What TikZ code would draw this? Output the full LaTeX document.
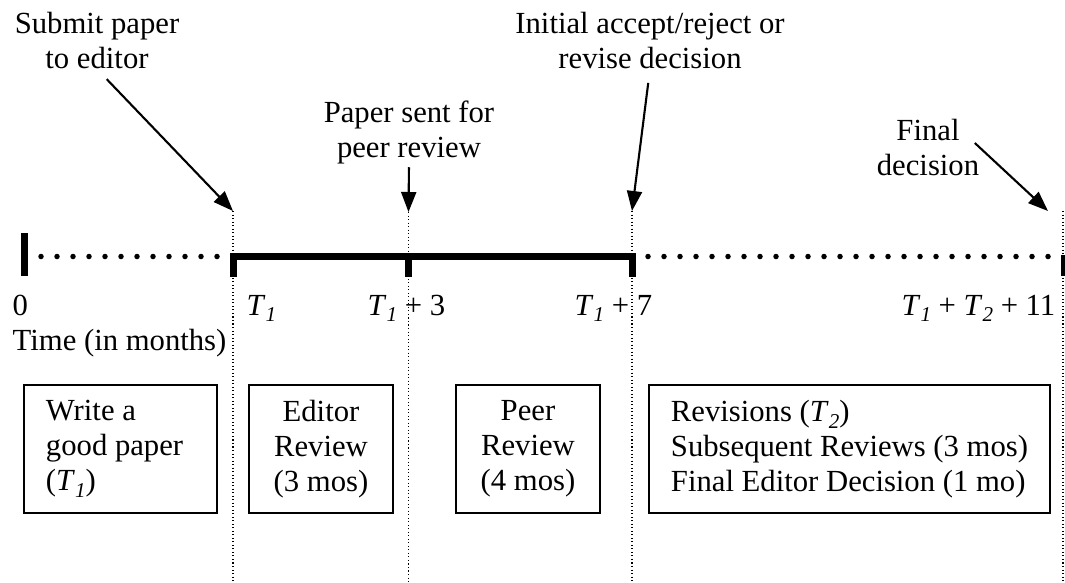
\documentclass[tikz,border=0pt]{standalone}
\usepackage{fontspec}
\setmainfont{Liberation Serif}
\usetikzlibrary{arrows.meta}
\newcommand{\Tsub}[1]{\textit{T}\raisebox{-0.22em}{\fontsize{6pt}{6pt}\selectfont\textit{#1}}}

\begin{document}
\begin{tikzpicture}[
        font=\fontsize{8.73pt}{9.96pt}\selectfont,
        lbl/.style={inner sep=0pt, align=center},
        mark label/.style={inner sep=0pt, anchor=base west},
        pointer/.style={-{Triangle[length=0.2cm,width=0.15cm]}, line width=0.6pt, shorten <=0.1cm},
        guide/.style={line width=0.3pt, dash pattern=on 0.3pt off 0.7pt},
        dots/.style={line width=0.055cm, line cap=round, dash pattern=on 0pt off 0.16cm},
        bar/.style={line width=0.07cm},
        stage/.style={draw, line width=0.6pt, minimum height=1.28cm, inner ysep=0pt}
    ]
            \useasboundingbox (0,0) rectangle (10.65,-5.82);
            \coordinate (A) at (2.33,-2.11);
            \coordinate (B) at (4.085,-2.12);
            \coordinate (C) at (6.32,-2.11);
            \coordinate (D) at (10.63,-2.11);
            \coordinate (E) at (10.48,-2.11);
            \draw[guide] (A) -- ++(0,-3.71);
            \draw[guide] (B) -- ++(0,-3.70);
            \draw[guide] (C) -- ++(0,-3.71);
            \draw[guide] (D) -- ++(0,-3.71);
            \draw[bar] (0.245,-2.33) -- (0.245,-2.76);
            \draw[dots] (0.41,-2.565) -- (2.25,-2.565);
            \draw[bar] (2.33,-2.77) -- (2.33,-2.565) -- (6.32,-2.565) -- (6.32,-2.77);
            \draw[bar] (4.085,-2.565) -- (4.085,-2.77);
            \draw[dots] (6.48,-2.565) -- (10.55,-2.565);
            \draw[bar] (10.64,-2.55) -- (10.64,-2.76);
            \node[lbl, anchor=base] (submit) at (0.97,-0.68) {Submit paper\\to editor};
            \node[lbl, anchor=base] (sent) at (4.09,-1.57) {Paper sent for\\peer review};
            \node[lbl, anchor=base] (initial) at (6.50,-0.68) {Initial accept/reject or\\revise decision};
            \node[lbl, anchor=base] (final) at (9.28,-1.75) {Final\\decision};
            \draw[pointer, shorten <=0.14cm] (submit.south) -- (A);
            \draw[pointer, shorten <=0.03cm] (sent.south) -- (B);
            \draw[pointer, shorten <=0.14cm] (initial.south) -- (C);
            \draw[pointer, shorten <=0pt] ([xshift=-0.05cm,yshift=0.04cm]final.east) -- (E);
            \node[lbl, anchor=base west, align=flush left] (time) at (0.12,-3.50) {0\\Time (in months)};
            \node[mark label] (t1) at (2.46,-3.15) {\Tsub{1}};
            \node[mark label] (t3) at (3.67,-3.15) {\Tsub{1} + 3};
            \node[mark label] (t7) at (5.74,-3.15) {\Tsub{1} + 7};
            \node[mark label, anchor=base east] (t11) at (10.56,-3.15) {\Tsub{1} + \Tsub{2} + 11};
            \node[stage, text width=1.49cm, inner xsep=0.22cm, align=flush left] (write) at (1.205,-4.49) {Write a\\good paper\\(\Tsub{1})};
            \node[stage, minimum width=1.44cm, align=center] (editor) at (3.21,-4.49) {Editor\\Review\\(3 mos)};
            \node[stage, minimum width=1.44cm, align=center] (peer) at (5.28,-4.49) {Peer\\Review\\(4 mos)};
            \node[stage, minimum width=4.01cm, align=flush left] (revise) at (8.495,-4.49) {Revisions (\Tsub{2})\\Subsequent Reviews (3 mos)\\Final Editor Decision (1 mo)};
        \end{tikzpicture}
\end{document}
